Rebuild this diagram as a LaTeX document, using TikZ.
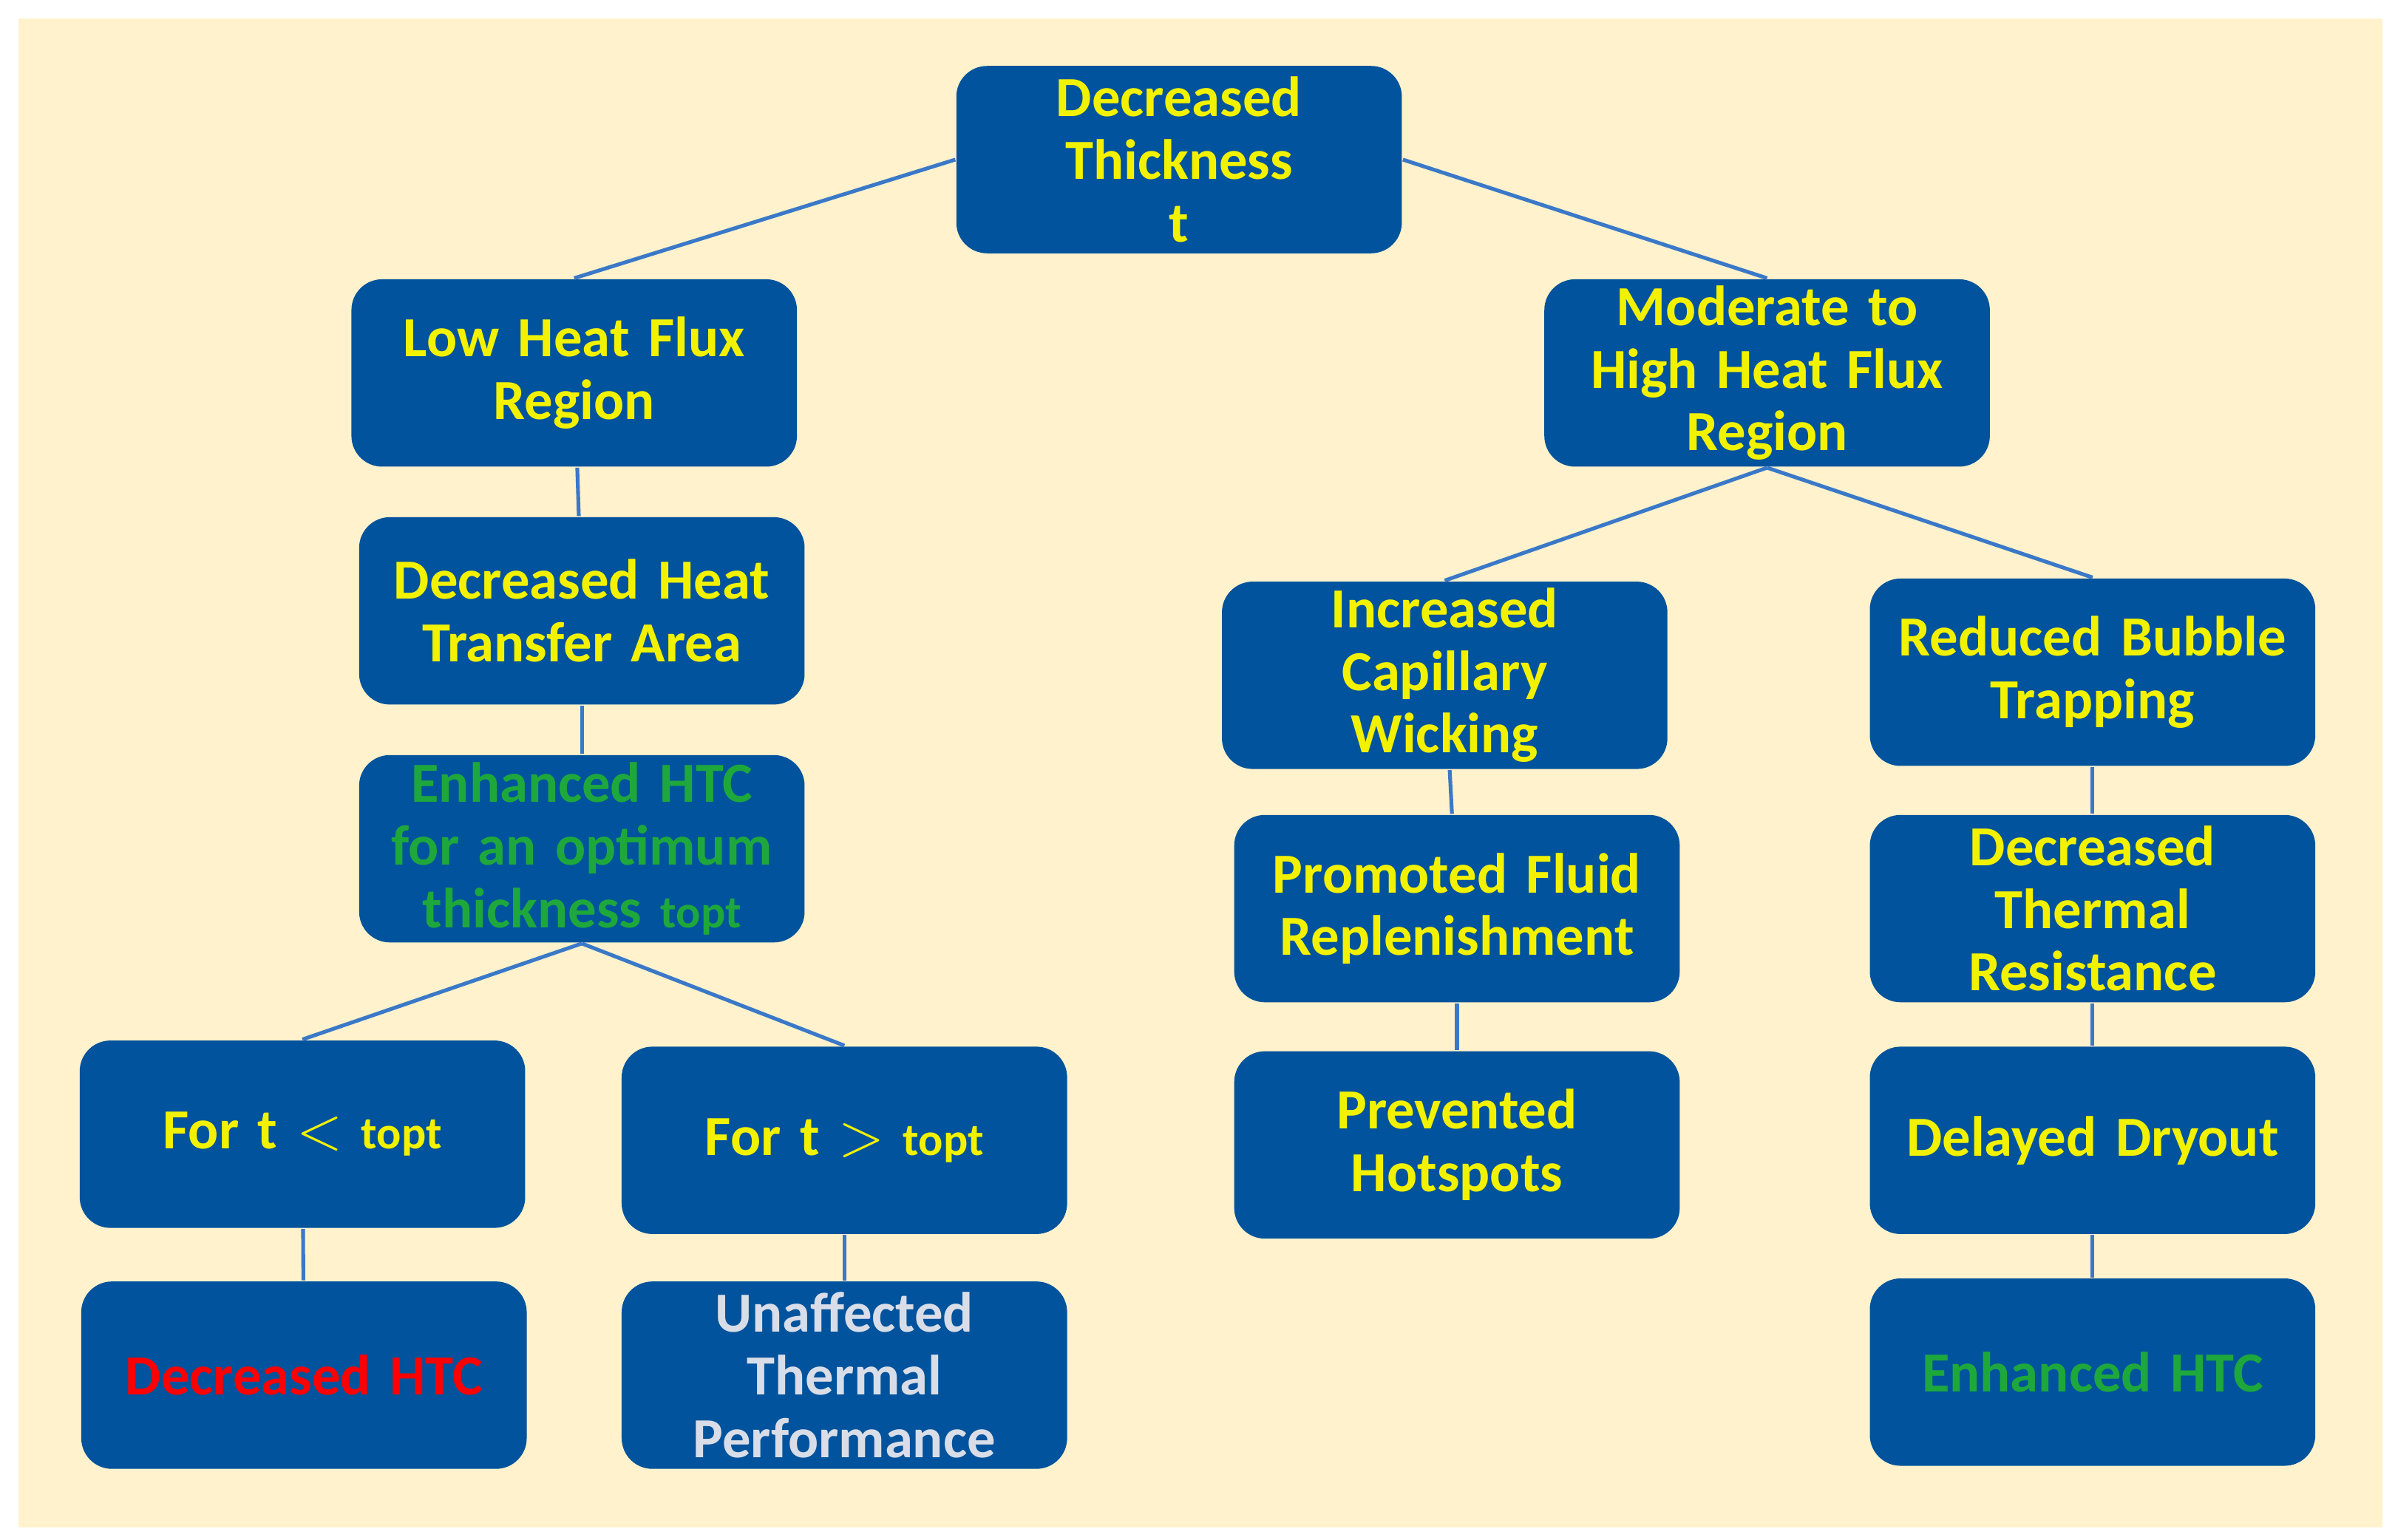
\documentclass[tikz,border=0pt]{standalone}
\usepackage{fontspec}
\setmainfont{Carlito}
\definecolor{boxblue}{HTML}{00539C}
\definecolor{linkblue}{HTML}{3A78C8}
\definecolor{cream}{HTML}{FFF2CC}
\definecolor{txtyellow}{HTML}{F2F200}
\definecolor{txtgreen}{HTML}{1EA83C}
\definecolor{txtgrey}{HTML}{D9DDE8}
\newcommand{\topt}{{\fontsize{8.5}{10}\selectfont topt}}
\tikzstyle{block} = [rectangle, rounded corners=0.2cm, minimum width=2.9cm, minimum height=1.22cm, text width=2.8cm, align=center, fill=boxblue, text=txtyellow, font=\bfseries\fontsize{10.5}{11.6}\selectfont, inner sep=0pt]
\tikzstyle{link} = [linkblue, line width=0.7pt]

\begin{document}
\begin{tikzpicture}[x=0.01cm, y=-0.01cm]
    \useasboundingbox (0,0) rectangle (1560,1003);
    \fill [cream] (12,12) rectangle (1552,995);
    \node (top) [block] at (768,104) {Decreased\\Thickness\\t};
    \node (low) [block] at (374,243) {Low Heat Flux\\Region};
    \node (mod) [block] at (1151,243) {Moderate to\\High Heat Flux\\Region};
    \node (area) [block] at (379,398) {Decreased Heat\\Transfer Area};
    \node (opt) [block, text=txtgreen] at (379,553) {Enhanced HTC\\for an optimum\\thickness \topt};
    \node (less) [block] at (197,739) {For t $<$ \topt};
    \node (more) [block] at (550,743) {For t $>$ \topt};
    \node (dhtc) [block, text=red] at (198,896) {Decreased HTC};
    \node (unaff) [block, text=txtgrey] at (550,896) {Unaffected\\Thermal\\Performance};
    \node (wick) [block] at (941,440) {Increased\\Capillary\\Wicking};
    \node (bubble) [block] at (1363,438) {Reduced Bubble\\Trapping};
    \node (fluid) [block] at (949,592) {Promoted Fluid\\Replenishment};
    \node (resist) [block] at (1363,592) {Decreased\\Thermal\\Resistance};
    \node (hot) [block] at (949,746) {Prevented\\Hotspots};
    \node (dry) [block] at (1363,743) {Delayed Dryout};
    \node (ehtc) [block, text=txtgreen] at (1363,894) {Enhanced HTC};
    \draw [link] (top.west) -- (low.north);
    \draw [link] (top.east) -- (mod.north);
    \draw [link] (low) -- (area);
    \draw [link] (area) -- (opt);
    \draw [link] (opt.south) -- (less.north);
    \draw [link] (opt.south) -- (more.north);
    \draw [link] (less) -- (dhtc);
    \draw [link] (more) -- (unaff);
    \draw [link] (mod.south) -- (wick.north);
    \draw [link] (mod.south) -- (bubble.north);
    \draw [link] (wick) -- (fluid);
    \draw [link] (fluid) -- (hot);
    \draw [link] (bubble) -- (resist);
    \draw [link] (resist) -- (dry);
    \draw [link] (dry) -- (ehtc);
\end{tikzpicture}
\end{document}
